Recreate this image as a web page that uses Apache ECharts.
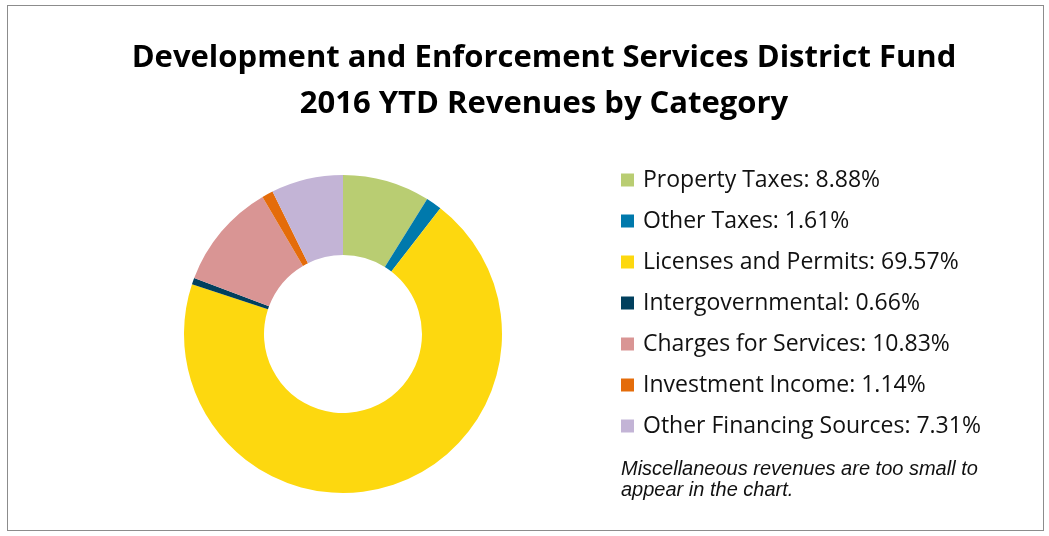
<!DOCTYPE html>
<html>
<head>
<meta charset="utf-8">
<script src="https://cdn.jsdelivr.net/npm/echarts@6/dist/echarts.min.js"></script>
<style>
  html, body { margin: 0; padding: 0; background: #fff; }
  #frame { position: absolute; left: 7px; top: 5px; width: 1037px; height: 526px; border: 1px solid #8c8c8c; box-sizing: border-box; }
  #chart { width: 1049px; height: 536px; }
</style>
</head>
<body>
<div id="frame"></div>
<div id="chart"></div>
<script>
const categories = ['Property Taxes', 'Other Taxes', 'Licenses and Permits', 'Intergovernmental',
  'Charges for Services', 'Investment Income', 'Other Financing Sources']
const shares = [8.88, 1.61, 69.57, 0.66, 10.83, 1.14, 7.31]
const colors = ['#B9CD72', '#0079AC', '#FDD80F', '#01405E', '#D99594', '#E46C0A', '#C3B4D6']

const chart = echarts.init(document.getElementById('chart'))

chart.setOption({
    animation: false,
    color: colors,
    title: {
        text: 'Development and Enforcement Services District Fund\n2016 YTD Revenues by Category',
        left: 539,
        top: 30,
        textAlign: 'center',
        textStyle: {
            fontFamily: 'Open Sans',
            fontWeight: 'bold',
            fontSize: 31,
            lineHeight: 46,
            color: '#000'
        }
    },
    legend: {
        orient: 'vertical',
        left: 616,
        top: 163,
        icon: 'rect',
        itemWidth: 13,
        itemHeight: 13,
        itemGap: 17,
        selectedMode: false,
        formatter: name => name + ': ' + shares[categories.indexOf(name)].toFixed(2) + '%',
        textStyle: {
            fontFamily: 'Open Sans',
            fontSize: 23,
            lineHeight: 24,
            padding: [0, 0, 0, 4],
            color: '#111'
        }
    },
    graphic: [{
        type: 'text',
        left: 621,
        top: 459,
        style: {
            text: 'Miscellaneous revenues are too small to\nappear in the chart.',
            font: 'italic 20px "Liberation Sans"',
            lineHeight: 21,
            fill: '#111'
        }
    }],
    series: [{
        type: 'pie',
        center: [343, 334],
        radius: [79, 159],
        startAngle: 90,
        clockwise: true,
        label: { show: false },
        labelLine: { show: false },
        emphasis: { disabled: true },
        data: categories.map((name, i) => ({ name, value: shares[i] }))
    }]
})
</script>
</body>
</html>
